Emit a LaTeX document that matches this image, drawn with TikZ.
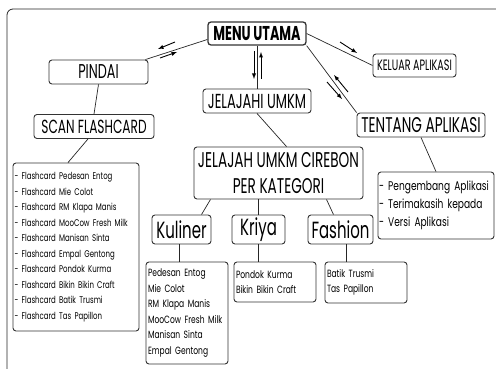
\documentclass[tikz,border=0pt]{standalone}
\usepackage{fontspec}
\setmainfont{Poppins}[FakeStretch=0.72]
\newfontfamily\headfont{Poppins}[FakeStretch=0.64]
\newcommand\headsize[1]{\headfont\fontsize{#1}{1.25\dimexpr#1pt\relax}\selectfont}
\begin{document}
\begin{tikzpicture}[x=1pt,y=-1pt,
    box/.style={draw=black!80,line width=0.9pt,rounded corners=3pt,inner sep=0pt,align=center},
    listbox/.style={box,align=left,font=\fontsize{10.5}{15.5}\selectfont},
    link/.style={black!85,line width=0.7pt},
    pair/.style={-latex,line width=0.9pt}]

    % frame
    \useasboundingbox (0,0) rectangle (496,369);
    \draw [black!85,line width=0.8pt,rounded corners=6pt] (7,369) -- (7,9) -- (496,9);

    % menu and first level
    \node [box,line width=1.3pt,minimum width=98pt,minimum height=23pt,font=\headsize{20}\bfseries] (menu) at (257,33.5) {MENU UTAMA};
    \node [box,minimum width=99pt,minimum height=24pt,font=\headsize{20}] (pindai) at (98.5,72) {PINDAI};
    \node [box,minimum width=83pt,minimum height=23pt,font=\headsize{15}] (keluar) at (414.5,65.5) {KELUAR APLIKASI};
    \node [box,minimum width=108pt,minimum height=24pt,font=\headsize{20.3}] (jelajahi) at (257,101) {JELAJAHI UMKM};
    \node [box,minimum width=120pt,minimum height=24pt,font=\headsize{19}] (scan) at (94,126.5) {SCAN FLASHCARD};
    \node [box,minimum width=128pt,minimum height=24pt,font=\headsize{21.3}] (tentang) at (421,125) {TENTANG APLIKASI};

    % categories
    \node [box,minimum width=169pt,minimum height=52pt,font=\headfont\fontsize{21.3}{26}\selectfont] (kategori) at (278.5,173) {JELAJAH UMKM CIREBON\\PER KATEGORI};
    \node [box,minimum width=59pt,minimum height=29pt,font=\headsize{23.4}] (kuliner) at (181.5,229.5) {Kuliner};
    \node [box,minimum width=53pt,minimum height=29pt,font=\headsize{23.4}] (kriya) at (258.5,229.5) {Kriya};
    \node [box,minimum width=65pt,minimum height=29pt,font=\headsize{23.4}] (fashion) at (340.5,229.5) {Fashion};

    % lists
    \node [listbox,minimum width=126pt,minimum height=168pt,text width=123pt,font=\fontsize{9.7}{15.5}\selectfont] (flashlist) at (76,247) {- Flashcard Pedesan Entog\\- Flashcard Mie Colot\\- Flashcard RM Klapa Manis\\- Flashcard MooCow Fresh Milk\\- Flashcard Manisan Sinta\\- Flashcard Empal Gentong\\- Flashcard Pondok Kurma\\- Flashcard Bikin Bikin Craft\\- Flashcard Batik Trusmi\\- Flashcard Tas Papillon};
    \node [listbox,minimum width=116pt,minimum height=67pt,text width=114pt,font=\fontsize{12.6}{18}\selectfont] (tentanglist) at (436,205.5) {- Pengembang Aplikasi\\- Terimakasih kepada\\- Versi Aplikasi};
    \node [listbox,minimum width=82pt,minimum height=102pt,text width=78pt] (kulinerlist) at (187,313) {Pedesan Entog\\Mie Colot\\RM Klapa Manis\\MooCow Fresh Milk\\Manisan Sinta\\Empal Gentong};
    \node [listbox,minimum width=82pt,minimum height=40pt,text width=78pt] (kriyalist) at (275,282) {Pondok Kurma\\Bikin Bikin Craft};
    \node [listbox,minimum width=82pt,minimum height=41pt,text width=78pt] (fashionlist) at (366,282.5) {Batik Trusmi\\Tas Papillon};

    % connectors
    \draw [link] ([yshift=-6pt]menu.west) -- ([xshift=-3pt]pindai.north east);
    \draw [link] (menu.east) -- (keluar.west);
    \draw [link] (menu.south) -- (jelajahi.north);
    \draw [link] (menu.south east) -- (tentang.north west);
    \draw [link] (pindai.south) -- (scan.north);
    \draw [link] ([xshift=-6pt]scan.south) -- ([xshift=-8pt]flashlist.north);
    \draw [link] (jelajahi.south) -- ([xshift=8pt]kategori.north);
    \draw [link] (tentang.south) -- (tentanglist.north);
    \draw [link] ([xshift=-68pt]kategori.south) -- ([xshift=20pt]kuliner.north);
    \draw [link] ([xshift=-20pt]kategori.south) -- (kriya.north);
    \draw [link] ([xshift=48pt]kategori.south) -- ([xshift=-7pt]fashion.north);
    \draw [link] ([xshift=-2pt]kuliner.south) -- ([xshift=-2pt]kuliner.south |- kulinerlist.north);
    \draw [link] (kriya.south) -- (kriya.south |- kriyalist.north);
    \draw [link] ([xshift=6pt]fashion.south) -- ([xshift=6pt]fashion.south |- fashionlist.north);

    % direction arrows
    \draw [pair] (175,42) -- (158,49);
    \draw [pair] (160,58) -- (177,52);
    \draw [pair] (254,51) -- (254,79);
    \draw [pair] (261,79) -- (261,52);
    \draw [pair] (340,42) -- (357,53);
    \draw [pair] (348,92) -- (334,75);
    \draw [pair] (327,82) -- (342,99);

\end{tikzpicture}
\end{document}
